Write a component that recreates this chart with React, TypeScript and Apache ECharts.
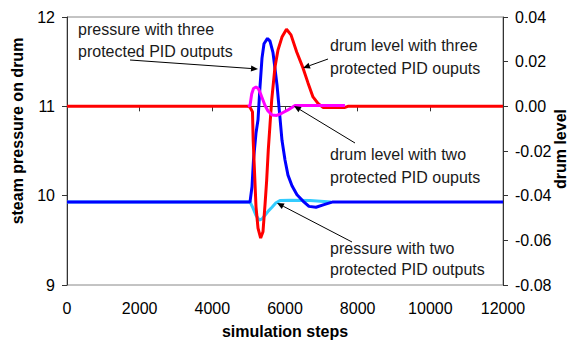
import React, { useEffect, useRef } from "react";
import * as echarts from "echarts";

const xTicks = [0, 2000, 4000, 6000, 8000, 10000, 12000];
const pressureTicks = [9, 10, 11, 12];
const levelTicks = [-0.08, -0.06, -0.04, -0.02, 0.0, 0.02, 0.04];

// pressure with three protected PID outputs (left axis)
const pressureThree: [number, number][] = [
  [0, 9.93], [5000, 9.93], [5037, 9.93], [5092, 10.1], [5133, 10.4], [5202, 10.7],
  [5257, 10.85], [5312, 11.22], [5367, 11.54], [5422, 11.7], [5518, 11.76],
  [5587, 11.73], [5670, 11.6], [5780, 11.24], [5862, 10.87], [5917, 10.62],
  [6000, 10.4], [6082, 10.23], [6192, 10.11], [6330, 10.01], [6495, 9.94],
  [6660, 9.88], [6853, 9.87], [7073, 9.9], [7320, 9.93], [12000, 9.93],
];

// pressure with two protected PID outputs (left axis)
const pressureTwo: [number, number][] = [
  [0, 9.93], [5037, 9.93], [5120, 9.86], [5202, 9.78], [5293, 9.727], [5367, 9.74],
  [5450, 9.78], [5545, 9.83], [5642, 9.87], [5752, 9.92], [5862, 9.945],
  [6137, 9.95], [6688, 9.945], [7265, 9.93],
];

// drum level with three protected PID outputs (right axis)
const levelThree: [number, number][] = [
  [0, 0], [4980, 0], [5037, -0.0004], [5105, -0.0025], [5124, -0.0151],
  [5202, -0.045], [5257, -0.0545], [5330, -0.059], [5394, -0.0562], [5450, -0.044],
  [5496, -0.033], [5540, -0.0195], [5587, -0.0083], [5634, 0.0028], [5724, 0.0176],
  [5807, 0.0252], [5917, 0.031], [6041, 0.0345], [6165, 0.032], [6322, 0.0243],
  [6495, 0.0172], [6633, 0.0105], [6770, 0.0042], [6908, 0.0013], [7045, -0.0005],
  [7650, -0.0005], [7730, 0], [12000, 0],
];

// drum level with two protected PID outputs (right axis)
const levelTwo: [number, number][] = [
  [4980, 0], [5037, 0.0004], [5083, 0.0055], [5133, 0.008], [5202, 0.0087],
  [5270, 0.0078], [5340, 0.0051], [5450, 0.0004], [5532, -0.0021], [5642, -0.0039],
  [5771, -0.0041], [5909, -0.0031], [6082, -0.0016], [6275, 0.0004], [7650, 0.0004],
];

const FONT = '"Liberation Sans", Arial, Helvetica, sans-serif';

function arrow(x1: number, y1: number, x2: number, y2: number) {
  const dx = x2 - x1;
  const dy = y2 - y1;
  const len = Math.sqrt(dx * dx + dy * dy);
  const ux = dx / len;
  const uy = dy / len;
  const hl = 7;
  const hw = 3;
  const bx = x2 - ux * hl;
  const by = y2 - uy * hl;
  return [
    {
      type: "line",
      z: 100,
      shape: { x1, y1, x2: bx, y2: by },
      style: { stroke: "#000", lineWidth: 1 },
    },
    {
      type: "polygon",
      z: 100,
      shape: {
        points: [
          [x2, y2],
          [bx - uy * hw, by + ux * hw],
          [bx + uy * hw, by - ux * hw],
        ],
      },
      style: { fill: "#000" },
    },
  ];
}

function label(text: string, x: number, y: number) {
  return {
    type: "text",
    z: 100,
    x,
    y,
    style: {
      text,
      font: `16px ${FONT}`,
      fill: "#1a1a1a",
      align: "left",
      verticalAlign: "middle",
      textAlign: "left",
      textVerticalAlign: "middle",
    },
  };
}

function title(text: string, x: number, y: number, rotation: number) {
  return {
    type: "text",
    z: 100,
    x,
    y,
    rotation,
    style: {
      text,
      font: `bold 16px ${FONT}`,
      fill: "#000",
      align: "center",
      verticalAlign: "middle",
      textAlign: "center",
      textVerticalAlign: "middle",
    },
  };
}

export default function App() {
  const ref = useRef<HTMLDivElement>(null);
  useEffect(() => {
    if (!ref.current) return;
    const chart = echarts.init(ref.current, null, { renderer: "svg" });
    const axisLine = { show: true, lineStyle: { color: "#333", width: 1 } };
    const axisTick = { show: true, length: 5, lineStyle: { color: "#333" } };
    const option: any = {
      animation: false,
      backgroundColor: "#fff",
      grid: {
        left: 67,
        right: 66,
        top: 17,
        bottom: 58,
        show: true,
        borderColor: "#888",
        borderWidth: 1,
        backgroundColor: "transparent",
      },
      xAxis: {
        type: "value",
        min: xTicks[0],
        max: xTicks[xTicks.length - 1],
        interval: xTicks[1] - xTicks[0],
        axisLine,
        axisTick,
        splitLine: { show: false },
        axisLabel: {
          color: "#000",
          fontFamily: FONT,
          fontSize: 16,
          margin: 15,
          formatter: (v: number) => String(Math.round(v)),
        },
      },
      yAxis: [
        {
          type: "value",
          position: "left",
          min: pressureTicks[0],
          max: pressureTicks[pressureTicks.length - 1],
          interval: 1,
          axisLine,
          axisTick,
          splitLine: { show: false },
          axisLabel: {
            color: "#000",
            fontFamily: FONT,
            fontSize: 16,
            margin: 12,
            formatter: (v: number) => String(Math.round(v)),
          },
        },
        {
          type: "value",
          position: "right",
          min: levelTicks[0],
          max: levelTicks[levelTicks.length - 1],
          interval: 0.02,
          axisLine,
          axisTick,
          splitLine: { show: false },
          axisLabel: {
            color: "#000",
            fontFamily: FONT,
            fontSize: 16,
            margin: 12,
            formatter: (v: number) => {
              const s = v.toFixed(2);
              return s === "-0.00" ? "0.00" : s;
            },
          },
        },
      ],
      series: [
        {
          name: "pressure with two protected PID outputs",
          type: "line",
          yAxisIndex: 0,
          data: pressureTwo,
          showSymbol: false,
          symbol: "none",
          lineStyle: { color: "#33ccff", width: 3 },
          z: 2,
        },
        {
          name: "pressure with three protected PID outputs",
          type: "line",
          yAxisIndex: 0,
          data: pressureThree,
          showSymbol: false,
          symbol: "none",
          lineStyle: { color: "#0000ff", width: 3 },
          z: 3,
        },
        {
          name: "drum level with three protected PID ouputs",
          type: "line",
          yAxisIndex: 1,
          data: levelThree,
          showSymbol: false,
          symbol: "none",
          lineStyle: { color: "#ff0000", width: 3 },
          z: 4,
        },
        {
          name: "drum level with two protected PID ouputs",
          type: "line",
          yAxisIndex: 1,
          data: levelTwo,
          showSymbol: false,
          symbol: "none",
          lineStyle: { color: "#ff00ff", width: 3 },
          z: 5,
        },
      ],
      graphic: [
        title("steam pressure on drum", 17, 131, Math.PI / 2),
        title("drum level", 560, 149, Math.PI / 2),
        title("simulation steps", 285, 331, 0),
        label("pressure with three", 78, 29.5),
        label("protected PID outputs", 78, 51),
        label("drum level with three", 330, 45),
        label("protected PID ouputs", 330, 68),
        label("drum level with two", 330, 154),
        label("protected PID ouputs", 330, 177),
        label("pressure with two", 330, 248),
        label("protected PID outputs", 330, 269.5),
        ...arrow(130, 60, 258, 69),
        ...arrow(328, 59, 303, 68),
        ...arrow(355, 143, 294, 106),
        ...arrow(352, 242, 277, 203),
      ],
    };
    chart.setOption(option);
    return () => chart.dispose();
  }, []);
  return (
    <div
      ref={ref}
      style={{ position: "fixed", left: 0, top: 0, width: 569, height: 343 }}
    />
  );
}
